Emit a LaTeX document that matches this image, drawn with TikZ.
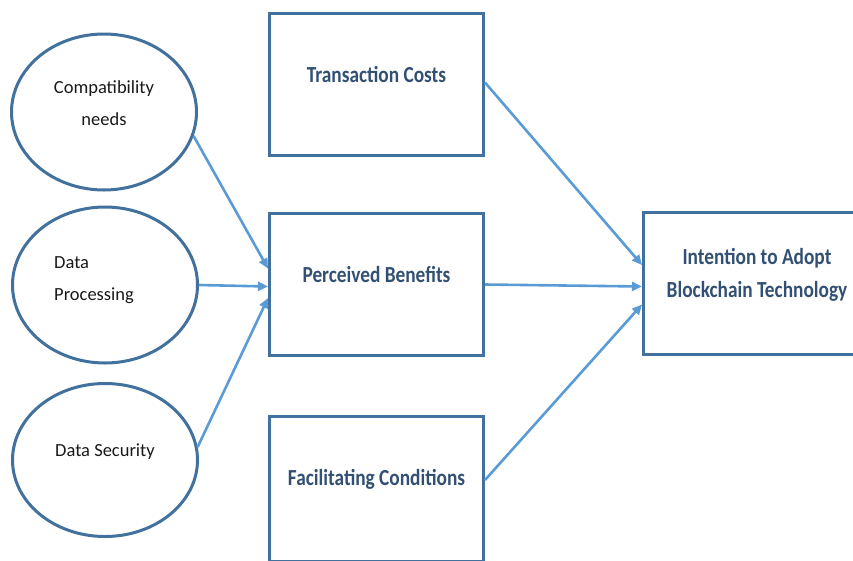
\documentclass[tikz,border=0pt]{standalone}
\usepackage{fontspec}
\setmainfont{Carlito}
\usetikzlibrary{arrows.meta}
\usetikzlibrary{positioning}
\usetikzlibrary{shapes.geometric}

\definecolor{framecol}{RGB}{65,113,156}
\definecolor{linkcol}{RGB}{91,155,213}
\definecolor{boxtxt}{RGB}{50,80,115}
\newcommand{\narrow}[1]{\scalebox{0.84}[1]{#1}}

\tikzset{
    oval/.style={ellipse, draw=framecol, line width=3pt, minimum width=185pt, minimum height=156pt, inner sep=0pt},
    frame/.style={rectangle, draw=framecol, line width=3pt, minimum width=214pt, minimum height=142pt, inner sep=0pt},
    ovaltxt/.style={inner sep=0pt, text=black!90, font=\fontsize{18.5}{32}\selectfont},
    boxlabel/.style={inner sep=0pt, text=boxtxt, font=\fontsize{23}{33}\selectfont\bfseries},
    link/.style={-{Triangle[length=10pt,width=9pt]}, draw=linkcol, line width=2.6pt}
}

\begin{document}
\begin{tikzpicture}[x=1pt,y=-1pt]
    \useasboundingbox (0,0) rectangle (853,560);
    \clip (0,0) rectangle (853,560);

    % left ovals
    \draw (104, 112) node[oval] (cn) {};
    \draw (105, 285) node[oval] (dp) {};
    \draw (105, 460) node[oval, minimum height=153pt] (ds) {};
    \node[ovaltxt, align=center] (cntxt) at ([yshift=9pt]cn.center) {Compatibility\\needs};
    \node[ovaltxt, align=left, anchor=west] (dptxt) at ([xshift=43pt, yshift=5pt]dp.west) {Data\\Processing};
    \node[ovaltxt] (dstxt) at ([yshift=8.5pt]ds.center) {Data Security};

    % middle boxes
    \draw (376.5, 84.5) node[frame] (tc) {};
    \draw (376.5, 284.5) node[frame] (pb) {};
    \draw (376.5, 489) node[frame, minimum height=145pt] (fc) {};
    \node[boxlabel, anchor=base] (tctxt) at ([yshift=2.5pt]tc.center) {\narrow{Transaction Costs}};
    \node[boxlabel, anchor=base] (pbtxt) at ([yshift=2.5pt]pb.center) {\narrow{Perceived Benefits}};
    \node[boxlabel, anchor=base] (fctxt) at ([yshift=4pt]fc.center) {\narrow{Facilitating Conditions}};

    % outcome
    \draw (757, 283.5) node[frame, minimum width=227pt] (ia) {};
    \node[boxlabel] (iatxt) at ([yshift=9.5pt]ia.center)
        {\narrow{\begin{tabular}{@{}c@{}}Intention to Adopt\\Blockchain Technology\end{tabular}}};

    % links
    \draw[link] (cn.-15) -- ([yshift=16pt]pb.west);
    \draw[link] (dp.east) -- ([yshift=-2pt]pb.west);
    \draw[link] (ds.8) -- ([yshift=-13.5pt]pb.west);
    \draw[link] ([yshift=2pt]tc.east) -- ([yshift=18.5pt]ia.west);
    \draw[link] (pb.east) -- ([yshift=-3pt]ia.west);
    \draw[link] ([yshift=9pt]fc.east) -- ([yshift=-21pt]ia.west);
\end{tikzpicture}
\end{document}
